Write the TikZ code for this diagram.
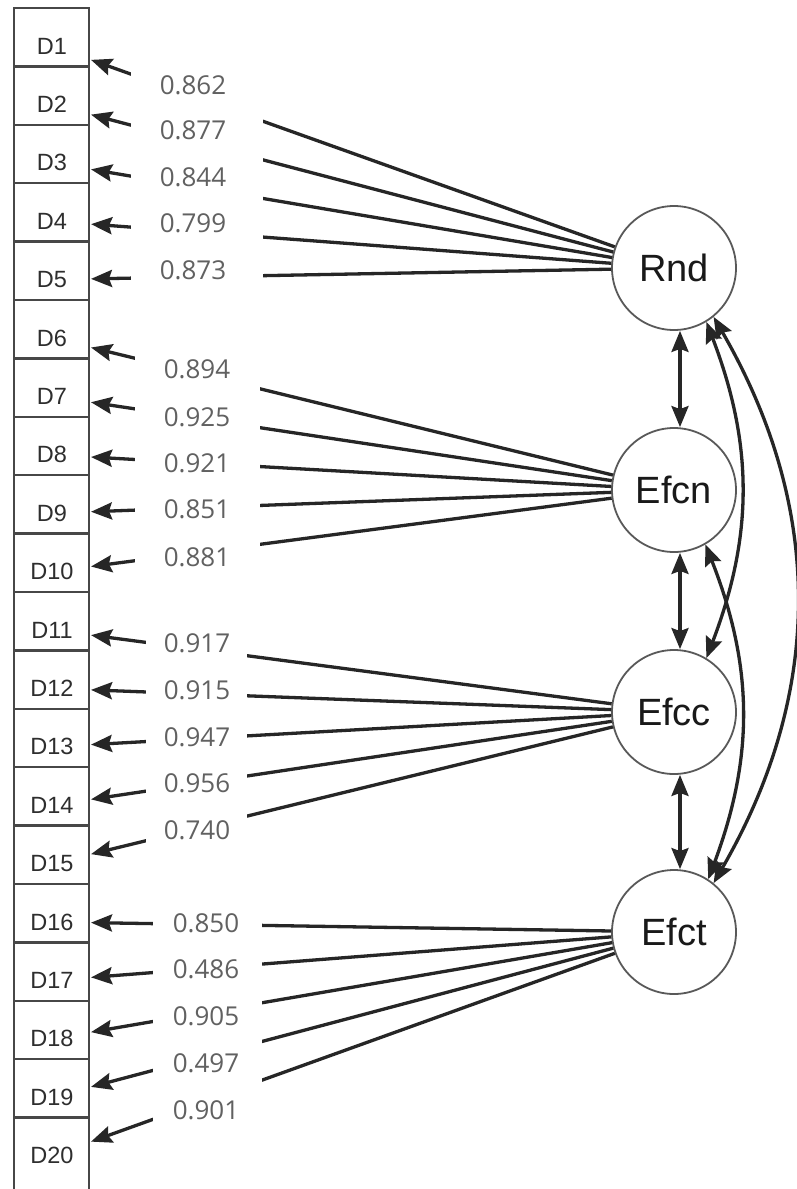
\documentclass[tikz,border=0pt]{standalone}
\usepackage{fontspec}
\setmainfont{Liberation Sans}
\newfontfamily\numfont{Open Sans}
\usetikzlibrary{arrows.meta}
\begin{document}
\begin{tikzpicture}[x=1pt,y=-1pt,
  conn/.style={line width=3.3pt, draw=black!85, -{Stealth[length=21pt,width=17pt,inset=3pt]}},
  dconn/.style={line width=3.3pt, draw=black!85, {Stealth[length=21pt,width=17pt,inset=3pt]}-{Stealth[length=21pt,width=17pt,inset=3pt]}},
  latent/.style={circle, draw=black!65, line width=1.8pt, minimum size=124pt, inner sep=0pt, font=\fontsize{38}{40}\selectfont, text=black!90},
  ind/.style={minimum width=78pt, minimum height=40pt, inner sep=0pt, outer sep=0pt, font=\fontsize{23.5}{25}\selectfont, text=black!82},
  load/.style={inner sep=0pt, font=\numfont\fontsize{26}{28}\selectfont, text=black!62},
  cover/.style={fill=white, draw=none},
  cell/.style={draw=black!72, line width=2.5pt}
]
\useasboundingbox (0,0) rectangle (797,1189);
\fill[white] (0,0) rectangle (797,1189);

% indicator column
\foreach \k in {0,...,18}
  \draw[cell] (14,{8+58.4*\k}) rectangle (89,{8+58.4*(\k+1)});
\draw[cell] (14,1117.6) rectangle (89,1200);

\foreach \k in {1,...,20}
  \node[ind] (D\k) at (52,{8+58.4*(\k-1)+38}) {D\k};

% latent variables
\node[latent] (Rnd)  at (674,268) {Rnd};
\node[latent] (Efcn) at (674,490) {Efcn};
\node[latent] (Efcc) at (674,712) {Efcc};
\node[latent] (Efct) at (674,932) {Efct};

% loadings
\foreach \k in {1,...,5}   \draw[conn] (Rnd) -- (D\k);
\foreach \k in {6,...,10}  \draw[conn] (Efcn) -- (D\k);
\foreach \k in {11,...,15} \draw[conn] (Efcc) -- (D\k);
\foreach \k in {16,...,20} \draw[conn] (Efct) -- (D\k);

% label gaps
\path[cover] (131,58) rectangle (263,300);
\path[cover] (135,330) rectangle (260,585);
\path[cover] (146,600) rectangle (247,870);
\path[cover] (153,890) rectangle (262,1150);

% loading values
\node[load] (l1)  at (193,85)  {0.862};
\node[load] (l2)  at (193,130) {0.877};
\node[load] (l3)  at (193,177) {0.844};
\node[load] (l4)  at (193,223) {0.799};
\node[load] (l5)  at (193,270) {0.873};
\node[load] (l6)  at (197,369) {0.894};
\node[load] (l7)  at (197,417) {0.925};
\node[load] (l8)  at (197,463) {0.921};
\node[load] (l9)  at (197,509) {0.851};
\node[load] (l10) at (197,557) {0.881};
\node[load] (l11) at (197,643) {0.917};
\node[load] (l12) at (197,690) {0.915};
\node[load] (l13) at (197,737) {0.947};
\node[load] (l14) at (197,783) {0.956};
\node[load] (l15) at (197,830) {0.740};
\node[load] (l16) at (206,923) {0.850};
\node[load] (l17) at (206,969) {0.486};
\node[load] (l18) at (206,1016) {0.905};
\node[load] (l19) at (206,1063) {0.497};
\node[load] (l20) at (206,1110) {0.901};

% correlations
\draw[dconn] ([xshift=6pt]Rnd.south) -- ([xshift=6pt]Efcn.north);
\draw[dconn] ([xshift=6pt]Efcn.south) -- ([xshift=6pt]Efcc.north);
\draw[dconn] ([xshift=6pt]Efcc.south) -- ([xshift=6pt]Efct.north);
\draw[dconn] (Rnd.-59) to[bend left=21] (Efcc.59);
\draw[dconn] (Efcn.-60) to[bend left=21] (Efct.57);
\draw[dconn] (Rnd.-51) to[bend left=30] (Efct.51);
\end{tikzpicture}
\end{document}
